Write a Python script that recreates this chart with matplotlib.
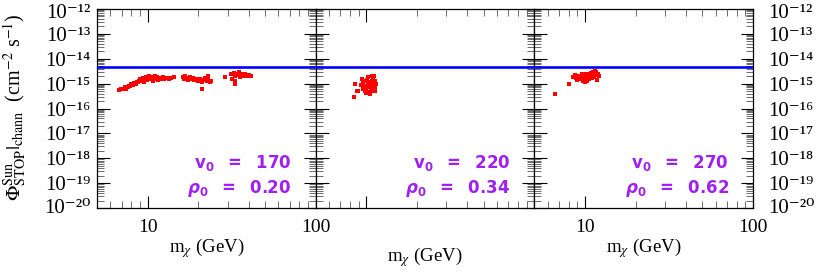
import matplotlib
matplotlib.use('Agg')
import matplotlib.pyplot as plt
import matplotlib.transforms as mtransforms
import numpy as np
from matplotlib.ticker import LogLocator, NullFormatter, FuncFormatter

# ---------------- data ----------------
# panel 1 : v0 = 170, rho0 = 0.20
p1_mass = [6.8, 6.9, 7.1, 7.3, 7.4, 7.6, 7.7, 7.9, 8.0, 8.2, 8.3, 8.5, 8.6, 8.8, 8.9, 9.0,
           9.1, 9.3, 9.4, 9.5, 9.6, 9.8, 9.9, 10.1, 10.2, 10.4, 10.5, 10.7, 10.8, 11.0,
           11.2, 11.4, 11.6, 11.8, 12.0, 12.3, 12.6, 13.0, 13.4, 13.8, 14.3,
           16.2, 16.5, 16.8, 17.2, 17.5, 17.8, 18.2, 18.6, 19.0, 19.5, 20.0, 20.5, 21.0,
           21.0, 21.5, 22.0, 22.5, 23.0, 23.5, 24.0, 22.8,
           28.9,
           31.5, 32.5, 33.0, 33.3, 34.0, 34.5, 35.0, 35.5, 36.0, 37.0, 38.0, 39.0, 40.0,
           41.0, 32.0, 33.0]
p1_logflux = [-15.26, -15.22, -15.20, -15.15, -15.20, -15.12, -15.08, -15.10, -15.02, -15.05,
              -14.98, -15.00, -14.92, -14.95, -14.88, -14.82, -14.90, -14.85, -14.78, -14.92,
              -14.80, -14.74, -14.86, -14.78, -14.70, -14.82, -14.74, -14.90, -14.76, -14.70,
              -14.80, -14.73, -14.85, -14.76, -14.80, -14.74, -14.82, -14.76, -14.80, -14.78,
              -14.74,
              -14.75, -14.82, -14.70, -14.78, -14.86, -14.72, -14.80, -14.76, -14.86, -14.80,
              -14.90, -14.82, -14.95, -15.20, -14.86, -14.78, -14.90, -14.84, -14.95, -14.88,
              -14.70,
              -14.72,
              -14.62, -14.56, -14.70, -15.03, -14.60, -14.66, -14.55, -14.72, -14.62, -14.68,
              -14.62, -14.70, -14.66, -14.68, -14.80, -14.88]

# panel 2 : v0 = 220, rho0 = 0.34
p2_mass = [8.45, 8.6, 8.8, 8.95, 9.4, 9.3, 9.6, 9.8, 9.8, 9.8, 10.0, 10.1, 10.3, 10.3, 10.3,
           10.3, 10.5, 10.6, 10.8, 10.8, 10.8, 10.8, 11.0, 11.0, 11.3, 11.3, 11.3, 11.5,
           10.0, 10.5, 9.5, 11.1]
p2_logflux = [-15.52, -15.00, -15.28, -15.30, -14.80, -15.05, -14.95, -14.90, -15.10, -15.30,
              -15.20, -14.85, -14.75, -15.00, -15.15, -15.35, -14.95, -15.25, -14.70, -14.90,
              -15.10, -15.28, -14.80, -15.05, -14.90, -15.15, -15.30, -15.00, -15.38, -15.40,
              -15.20, -14.68]

# panel 3 : v0 = 270, rho0 = 0.62
p3_mass = [6.6, 8.08, 8.5, 8.7, 8.9, 9.1, 9.0, 9.3, 9.4, 9.6, 9.6, 9.8, 9.9, 10.0, 10.2, 10.3,
           10.3, 10.5, 10.6, 10.8, 10.9, 11.0, 11.2, 11.3, 11.4, 11.6, 11.7, 11.8, 12.0, 12.1,
           11.5, 10.0]
p3_logflux = [-15.41, -15.01, -14.72, -14.66, -14.78, -14.70, -14.85, -14.68, -14.80, -14.62,
              -14.75, -14.88, -14.66, -14.78, -14.60, -14.72, -14.90, -14.62, -14.82, -14.56,
              -14.68, -14.78, -14.52, -14.62, -14.72, -14.55, -14.66, -14.86, -14.60, -14.70,
              -14.50, -14.95]

limit_flux = 4.8e-15           # horizontal blue line
v0_values = ['170', '220', '270']
rho0_values = ['0.20', '0.34', '0.62']

panels = [(p1_mass, p1_logflux), (p2_mass, p2_logflux), (p3_mass, p3_logflux)]

# ---------------- figure ----------------
plt.rcParams['font.family'] = ['Liberation Serif', 'DejaVu Serif']
plt.rcParams['mathtext.fontset'] = 'stix'

fig = plt.figure(figsize=(8.17, 2.72), dpi=100)
L = 97 / 817
W = 218.67 / 817
B = 1 - 208 / 272
H = 199 / 272
purple = '#A020F0'

SUP = str.maketrans('-0123456789', '\u207b\u2070\u00b9\u00b2\u00b3\u2074\u2075\u2076\u2077\u2078\u2079')


def ylab(v, p):
    e = int(round(np.log10(v)))
    return '10' + str(e).translate(SUP)


def shift(px):
    return mtransforms.ScaledTranslation(0, -px / 100, fig.dpi_scale_trans)


for i, (m, lf) in enumerate(panels):
    ax = fig.add_axes([L + i * W, B, W, H])
    ax.set_xscale('log')
    ax.set_yscale('log')
    ax.set_xlim(5, 100)
    ax.set_ylim(1e-20, 1e-12)

    ax.scatter(m, np.power(10.0, lf), marker='s', s=5.5, color='#ff0000',
               linewidths=0, zorder=3)
    ax.axhline(limit_flux, color='#0000ff', lw=1.9, zorder=4)

    ax.yaxis.set_major_locator(LogLocator(base=10, numticks=20))
    ax.yaxis.set_minor_locator(LogLocator(base=10, subs=np.arange(2, 10), numticks=20))
    ax.yaxis.set_minor_formatter(NullFormatter())
    ax.yaxis.set_major_formatter(FuncFormatter(ylab))
    ax.xaxis.set_major_locator(LogLocator(base=10, numticks=10))
    ax.xaxis.set_minor_locator(LogLocator(base=10, subs=np.arange(2, 10), numticks=10))
    ax.xaxis.set_minor_formatter(NullFormatter())
    ax.xaxis.set_major_formatter(FuncFormatter(lambda v, p: f'{v:g}'))

    ax.tick_params(which='both', direction='in', top=True, right=True,
                   left=True, bottom=True, colors='black')
    ax.tick_params(axis='x', labelsize=14)
    ax.tick_params(axis='y', labelsize=15)
    ax.tick_params(which='major', length=9, width=0.8)
    ax.tick_params(which='minor', length=5, width=0.55, color='#444444')
    ax.tick_params(axis='x', which='major', pad=8)
    for s in ax.spines.values():
        s.set_linewidth(0.9)

    if i == 0:
        ax.tick_params(axis='y', labelleft=True, labelright=False, pad=5)
    elif i == 1:
        ax.tick_params(axis='y', labelleft=False, labelright=False)
        ax.tick_params(axis='x', labelbottom=False)
    else:
        ax.tick_params(axis='y', labelleft=False, labelright=True, pad=11)

    ax.set_xlabel(r'm$_\chi$ (GeV)', fontsize=13.5,
                  labelpad=(23 if i == 1 else 0))

    ax.text(0.89, 0.225, r'$\mathbf{v_0\ \ =\ \ ' + v0_values[i] + '}$',
            transform=ax.transAxes, ha='right', va='center', color=purple,
            fontsize=12, math_fontfamily='dejavusans')
    ax.text(0.89, 0.10, r'$\boldsymbol{\rho}_\mathbf{0}\mathbf{\ \ =\ \ ' + rho0_values[i] + '}$',
            transform=ax.transAxes, ha='right', va='center', color=purple,
            fontsize=12, math_fontfamily='dejavusans')

    fig.canvas.draw()
    ticks = ax.yaxis.get_major_ticks()
    locs = ax.yaxis.get_majorticklocs()
    for tk, loc in zip(ticks, locs):
        if np.isclose(np.log10(loc), -12):
            for lab in (tk.label1, tk.label2):
                lab.set_verticalalignment('top')
                lab.set_transform(lab.get_transform() + shift(-4.5))
        elif np.isclose(np.log10(loc), -20):
            for lab in (tk.label1, tk.label2):
                lab.set_transform(lab.get_transform() + shift(-2))

fig.text(0.019, 1 - 107 / 272,
         r'$\Phi^{\rm Sun}_{\rm STOP}|_{\rm chann}$  (cm$^{-2}$ s$^{-1}$)',
         rotation=90, ha='center', va='center', fontsize=14.5)

fig.savefig('out.png', dpi=100)
